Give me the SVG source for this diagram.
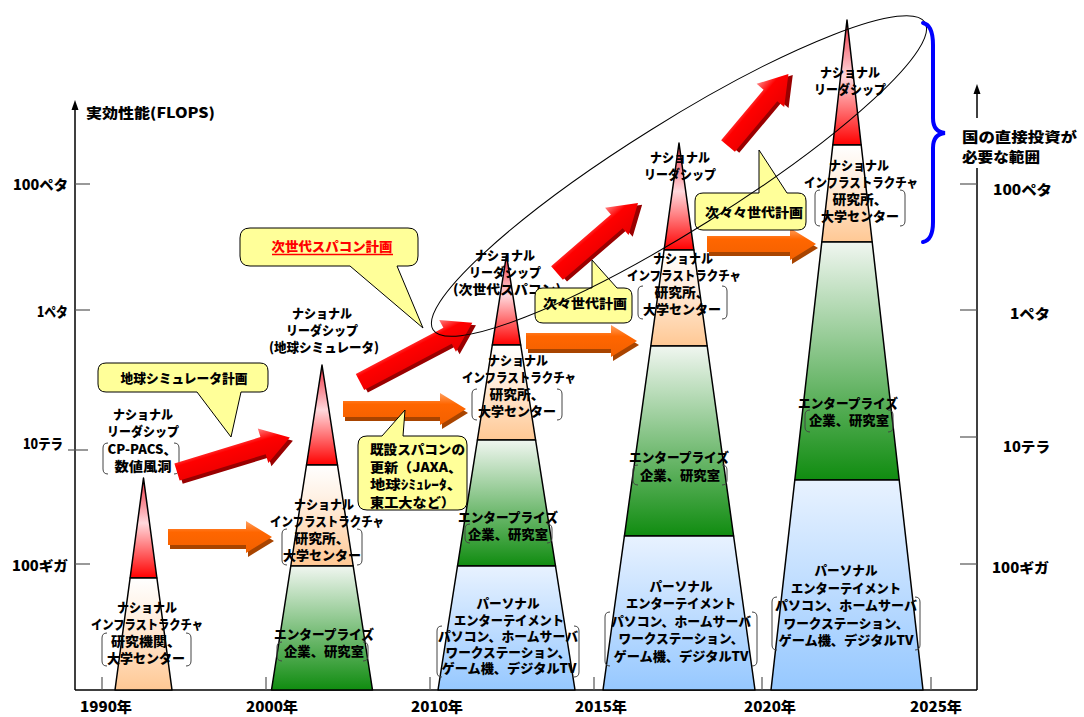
<svg xmlns="http://www.w3.org/2000/svg" width="1084" height="717" viewBox="0 0 1084 717">
<defs>
<style>
.lb{font-family:"Noto Sans CJK JP","Noto Sans",sans-serif;font-weight:900;font-size:13px;text-anchor:middle;fill:#000}
.ax{font-family:"Noto Sans CJK JP","Noto Sans",sans-serif;font-weight:900;font-size:14px;fill:#000}
.br{fill:none;stroke:#444;stroke-width:1}
.co{fill:#FFFF99;stroke:#000;stroke-width:1}
.pl{stroke:#000;stroke-width:1.5;stroke-linejoin:round}
.axl{stroke:#000;stroke-width:1.5;fill:none}
.tk{stroke:#555;stroke-width:1.2}
</style>
<linearGradient id="gR" x1="0" y1="0" x2="0" y2="1"><stop offset="0" stop-color="#F03040"/><stop offset="0.45" stop-color="#FFD8DC"/><stop offset="1" stop-color="#FF0000"/></linearGradient>
<linearGradient id="gO" x1="0" y1="0" x2="0" y2="1"><stop offset="0" stop-color="#FFFFFF"/><stop offset="0.3" stop-color="#FFF2E6"/><stop offset="1" stop-color="#FFC894"/></linearGradient>
<linearGradient id="gG" x1="0" y1="0" x2="0" y2="1"><stop offset="0" stop-color="#F0F6F0"/><stop offset="1" stop-color="#108C10"/></linearGradient>
<linearGradient id="gB" x1="0" y1="0" x2="0" y2="1"><stop offset="0" stop-color="#E8F2FF"/><stop offset="1" stop-color="#96C8FF"/></linearGradient>
<linearGradient id="gRA" x1="0" y1="0" x2="0" y2="1"><stop offset="0" stop-color="#FF8080"/><stop offset="0.35" stop-color="#FF0000"/><stop offset="1" stop-color="#E80000"/></linearGradient>
<linearGradient id="gOA" x1="0" y1="0" x2="0" y2="1"><stop offset="0" stop-color="#FFA060"/><stop offset="0.35" stop-color="#FF6600"/><stop offset="1" stop-color="#F26000"/></linearGradient>
</defs>
<rect width="1084" height="717" fill="#FFFFFF"/>

<g id="axes">
<line class="axl" x1="75" y1="106" x2="75" y2="690"/>
<polygon points="75,100 71.5,110 78.5,110" fill="#000"/>
<line class="axl" x1="75" y1="690" x2="977" y2="690"/>
<line class="axl" x1="977" y1="90" x2="977" y2="118"/>
<line class="axl" x1="977" y1="168" x2="977" y2="690"/>
<polygon points="977,84 973.5,94 980.5,94" fill="#000"/>
<line class="tk" x1="75" y1="184" x2="90" y2="184"/>
<line class="tk" x1="75" y1="310" x2="90" y2="310"/>
<line class="tk" x1="68" y1="450" x2="88" y2="450"/>
<line class="tk" x1="75" y1="564" x2="90" y2="564"/>
<line class="tk" x1="960" y1="184" x2="977" y2="184"/>
<line class="tk" x1="960" y1="310" x2="977" y2="310"/>
<line class="tk" x1="960" y1="437" x2="977" y2="437"/>
<line class="tk" x1="960" y1="564" x2="977" y2="564"/>
<line class="tk" x1="102" y1="677" x2="102" y2="690"/>
<line class="tk" x1="266" y1="677" x2="266" y2="690"/>
<line class="tk" x1="430" y1="677" x2="430" y2="690"/>
<line class="tk" x1="594" y1="677" x2="594" y2="690"/>
<line class="tk" x1="762" y1="677" x2="762" y2="690"/>
<line class="tk" x1="931" y1="677" x2="931" y2="690"/>
<text class="ax" x="86" y="118" font-size="15" textLength="129" lengthAdjust="spacingAndGlyphs">実効性能(FLOPS)</text>
<text class="ax" x="68" y="190" text-anchor="end" textLength="55" lengthAdjust="spacingAndGlyphs">100ペタ</text>
<text class="ax" x="68" y="317" text-anchor="end" textLength="31" lengthAdjust="spacingAndGlyphs">1ペタ</text>
<text class="ax" x="63" y="449" text-anchor="end" textLength="40" lengthAdjust="spacingAndGlyphs">10テラ</text>
<text class="ax" x="68" y="571" text-anchor="end" textLength="56" lengthAdjust="spacingAndGlyphs">100ギガ</text>
<text class="ax" x="1052" y="195" text-anchor="end" textLength="59" lengthAdjust="spacingAndGlyphs">100ペタ</text>
<text class="ax" x="1050" y="319" text-anchor="end" textLength="40" lengthAdjust="spacingAndGlyphs">1ペタ</text>
<text class="ax" x="1050" y="452" text-anchor="end" textLength="47" lengthAdjust="spacingAndGlyphs">10テラ</text>
<text class="ax" x="1049" y="573" text-anchor="end" textLength="57" lengthAdjust="spacingAndGlyphs">100ギガ</text>
<text class="ax" x="106" y="712" text-anchor="middle" textLength="52" lengthAdjust="spacingAndGlyphs">1990年</text>
<text class="ax" x="272" y="712" text-anchor="middle" textLength="52" lengthAdjust="spacingAndGlyphs">2000年</text>
<text class="ax" x="437" y="712" text-anchor="middle" textLength="52" lengthAdjust="spacingAndGlyphs">2010年</text>
<text class="ax" x="601" y="712" text-anchor="middle" textLength="52" lengthAdjust="spacingAndGlyphs">2015年</text>
<text class="ax" x="770" y="712" text-anchor="middle" textLength="52" lengthAdjust="spacingAndGlyphs">2020年</text>
<text class="ax" x="936" y="712" text-anchor="middle" textLength="52" lengthAdjust="spacingAndGlyphs">2025年</text>
</g>

<g id="pyramid-1990">
<polygon class="pl" fill="url(#gR)" points="143.5,478 156.9,578 130.1,578"/>
<polygon class="pl" fill="url(#gO)" points="130.1,578 156.9,578 172,690 115,690"/>
<text class="lb" x="143" y="419" textLength="60" lengthAdjust="spacingAndGlyphs">ナショナル</text>
<text class="lb" x="143" y="436" textLength="72" lengthAdjust="spacingAndGlyphs">リーダシップ</text>
<path class="br" d="M108,443 Q103,443 103,448 V469 Q103,474 108,474 M174,443 Q179,443 179,448 V469 Q179,474 174,474"/>
<text class="lb" x="142" y="454" textLength="69" lengthAdjust="spacingAndGlyphs">CP-PACS、</text>
<text class="lb" x="143" y="471" textLength="57" lengthAdjust="spacingAndGlyphs">数値風洞</text>
<text class="lb" x="147" y="612" textLength="60" lengthAdjust="spacingAndGlyphs">ナショナル</text>
<text class="lb" x="147" y="629" textLength="112" lengthAdjust="spacingAndGlyphs">インフラストラクチャ</text>
<path class="br" d="M107,633 Q102,633 102,638 V661 Q102,666 107,666 M186,633 Q191,633 191,638 V661 Q191,666 186,666"/>
<text class="lb" x="146" y="646" textLength="70" lengthAdjust="spacingAndGlyphs">研究機関、</text>
<text class="lb" x="146" y="663" textLength="78" lengthAdjust="spacingAndGlyphs">大学センター</text>
</g>

<g id="pyramid-2000">
<polygon class="pl" fill="url(#gR)" points="322,365 337.5,465 306.5,465"/>
<polygon class="pl" fill="url(#gO)" points="306.5,465 337.5,465 353.2,566 290.8,566"/>
<polygon class="pl" fill="url(#gG)" points="290.8,566 353.2,566 372.5,690 271.5,690"/>
<text class="lb" x="322" y="318" textLength="60" lengthAdjust="spacingAndGlyphs">ナショナル</text>
<text class="lb" x="322" y="335" textLength="72" lengthAdjust="spacingAndGlyphs">リーダシップ</text>
<text class="lb" x="324" y="352" textLength="110" lengthAdjust="spacingAndGlyphs">(地球シミュレータ)</text>
<text class="lb" x="324" y="509" textLength="60" lengthAdjust="spacingAndGlyphs">ナショナル</text>
<text class="lb" x="327" y="526" textLength="114" lengthAdjust="spacingAndGlyphs">インフラストラクチャ</text>
<path class="br" d="M287,529 Q282,529 282,534 V560 Q282,565 287,565 M357,529 Q362,529 362,534 V560 Q362,565 357,565"/>
<text class="lb" x="322" y="543" textLength="55" lengthAdjust="spacingAndGlyphs">研究所、</text>
<text class="lb" x="322" y="560" textLength="78" lengthAdjust="spacingAndGlyphs">大学センター</text>
<text class="lb" x="324" y="639" textLength="100" lengthAdjust="spacingAndGlyphs">エンタープライズ</text>
<path class="br" d="M282,642 Q277,642 277,647 V656 Q277,661 282,661 M363,642 Q368,642 368,647 V656 Q368,661 363,661"/>
<text class="lb" x="324" y="656" textLength="80" lengthAdjust="spacingAndGlyphs">企業、研究室</text>
</g>

<g id="pyramid-2010">
<polygon class="pl" fill="url(#gR)" points="506.5,255 520.7,345 492.3,345"/>
<polygon class="pl" fill="url(#gO)" points="492.3,345 520.7,345 535.6,440 477.4,440"/>
<polygon class="pl" fill="url(#gG)" points="477.4,440 535.6,440 555.5,566 457.5,566"/>
<polygon class="pl" fill="url(#gB)" points="457.5,566 555.5,566 575,690 438,690"/>
<text class="lb" x="505" y="260" textLength="60" lengthAdjust="spacingAndGlyphs">ナショナル</text>
<text class="lb" x="505" y="277" textLength="72" lengthAdjust="spacingAndGlyphs">リーダシップ</text>
<text class="lb" x="507" y="294" textLength="108" lengthAdjust="spacingAndGlyphs">(次世代スパコン)</text>
<text class="lb" x="518" y="365" textLength="60" lengthAdjust="spacingAndGlyphs">ナショナル</text>
<text class="lb" x="519" y="382" textLength="114" lengthAdjust="spacingAndGlyphs">インフラストラクチャ</text>
<path class="br" d="M477,389 Q472,389 472,394 V415 Q472,420 477,420 M557,389 Q562,389 562,394 V415 Q562,420 557,420"/>
<text class="lb" x="517" y="399" textLength="55" lengthAdjust="spacingAndGlyphs">研究所、</text>
<text class="lb" x="517" y="416" textLength="78" lengthAdjust="spacingAndGlyphs">大学センター</text>
<text class="lb" x="508" y="522" textLength="100" lengthAdjust="spacingAndGlyphs">エンタープライズ</text>
<path class="br" d="M470,524 Q465,524 465,529 V538 Q465,543 470,543 M547,524 Q552,524 552,529 V538 Q552,543 547,543"/>
<text class="lb" x="508" y="539" textLength="80" lengthAdjust="spacingAndGlyphs">企業、研究室</text>
<text class="lb" x="508" y="608" textLength="63" lengthAdjust="spacingAndGlyphs">パーソナル</text>
<text class="lb" x="509" y="625" textLength="110" lengthAdjust="spacingAndGlyphs">エンターテイメント</text>
<path class="br" d="M442,626 Q437,626 437,631 V672 Q437,677 442,677 M574,626 Q579,626 579,631 V672 Q579,677 574,677"/>
<text class="lb" x="508" y="641" textLength="140" lengthAdjust="spacingAndGlyphs">パソコン、ホームサーバ</text>
<text class="lb" x="508" y="657" textLength="125" lengthAdjust="spacingAndGlyphs">ワークステーション、</text>
<text class="lb" x="509" y="673" textLength="135" lengthAdjust="spacingAndGlyphs">ゲーム機、デジタルTV</text>
</g>

<g id="pyramid-2015">
<polygon class="pl" fill="url(#gR)" points="679,143 693.9,250 664.1,250"/>
<polygon class="pl" fill="url(#gO)" points="664.1,250 693.9,250 707.2,346 650.8,346"/>
<polygon class="pl" fill="url(#gG)" points="650.8,346 707.2,346 733.6,536 624.4,536"/>
<polygon class="pl" fill="url(#gB)" points="624.4,536 733.6,536 755,690 603,690"/>
<text class="lb" x="680" y="162" textLength="60" lengthAdjust="spacingAndGlyphs">ナショナル</text>
<text class="lb" x="680" y="179" textLength="72" lengthAdjust="spacingAndGlyphs">リーダシップ</text>
<text class="lb" x="683" y="263" textLength="60" lengthAdjust="spacingAndGlyphs">ナショナル</text>
<text class="lb" x="684" y="280" textLength="114" lengthAdjust="spacingAndGlyphs">インフラストラクチャ</text>
<path class="br" d="M643,286 Q638,286 638,291 V314 Q638,319 643,319 M722,286 Q727,286 727,291 V314 Q727,319 722,319"/>
<text class="lb" x="682" y="297" textLength="55" lengthAdjust="spacingAndGlyphs">研究所、</text>
<text class="lb" x="682" y="314" textLength="78" lengthAdjust="spacingAndGlyphs">大学センター</text>
<text class="lb" x="679" y="462" textLength="100" lengthAdjust="spacingAndGlyphs">エンタープライズ</text>
<path class="br" d="M638,465 Q633,465 633,470 V480 Q633,485 638,485 M722,465 Q727,465 727,470 V480 Q727,485 722,485"/>
<text class="lb" x="680" y="480" textLength="80" lengthAdjust="spacingAndGlyphs">企業、研究室</text>
<text class="lb" x="681" y="591" textLength="63" lengthAdjust="spacingAndGlyphs">パーソナル</text>
<text class="lb" x="681" y="608" textLength="110" lengthAdjust="spacingAndGlyphs">エンターテイメント</text>
<path class="br" d="M610,612 Q605,612 605,617 V661 Q605,666 610,666 M752,612 Q757,612 757,617 V661 Q757,666 752,666"/>
<text class="lb" x="681" y="626" textLength="140" lengthAdjust="spacingAndGlyphs">パソコン、ホームサーバ</text>
<text class="lb" x="681" y="643" textLength="125" lengthAdjust="spacingAndGlyphs">ワークステーション、</text>
<text class="lb" x="681" y="661" textLength="135" lengthAdjust="spacingAndGlyphs">ゲーム機、デジタルTV</text>
</g>

<g id="pyramid-2020">
<polygon class="pl" fill="url(#gR)" points="847,20 861.2,145 832.8,145"/>
<polygon class="pl" fill="url(#gO)" points="832.8,145 861.2,145 872.2,242 821.8,242"/>
<polygon class="pl" fill="url(#gG)" points="821.8,242 872.2,242 899.2,480 794.8,480"/>
<polygon class="pl" fill="url(#gB)" points="794.8,480 899.2,480 923,690 771,690"/>
<text class="lb" x="850" y="77" textLength="60" lengthAdjust="spacingAndGlyphs">ナショナル</text>
<text class="lb" x="850" y="94" textLength="72" lengthAdjust="spacingAndGlyphs">リーダシップ</text>
<text class="lb" x="859" y="170" textLength="60" lengthAdjust="spacingAndGlyphs">ナショナル</text>
<text class="lb" x="861" y="187" textLength="114" lengthAdjust="spacingAndGlyphs">インフラストラクチャ</text>
<path class="br" d="M820,190 Q815,190 815,195 V221 Q815,226 820,226 M900,190 Q905,190 905,195 V221 Q905,226 900,226"/>
<text class="lb" x="860" y="204" textLength="55" lengthAdjust="spacingAndGlyphs">研究所、</text>
<text class="lb" x="860" y="221" textLength="78" lengthAdjust="spacingAndGlyphs">大学センター</text>
<text class="lb" x="848" y="408" textLength="100" lengthAdjust="spacingAndGlyphs">エンタープライズ</text>
<path class="br" d="M810,410 Q805,410 805,415 V427 Q805,432 810,432 M888,410 Q893,410 893,415 V427 Q893,432 888,432"/>
<text class="lb" x="849" y="425" textLength="80" lengthAdjust="spacingAndGlyphs">企業、研究室</text>
<text class="lb" x="846" y="575" textLength="63" lengthAdjust="spacingAndGlyphs">パーソナル</text>
<text class="lb" x="846" y="593" textLength="110" lengthAdjust="spacingAndGlyphs">エンターテイメント</text>
<path class="br" d="M777,597 Q772,597 772,602 V645 Q772,650 777,650 M915,597 Q920,597 920,602 V645 Q920,650 915,650"/>
<text class="lb" x="846" y="610" textLength="142" lengthAdjust="spacingAndGlyphs">パソコン、ホームサーバ</text>
<text class="lb" x="846" y="628" textLength="125" lengthAdjust="spacingAndGlyphs">ワークステーション、</text>
<text class="lb" x="846" y="645" textLength="135" lengthAdjust="spacingAndGlyphs">ゲーム機、デジタルTV</text>
</g>

<g id="connectors">
<g transform="translate(177,472) rotate(-17)">
<path transform="translate(2,4)" fill="#990000" d="M0,-9 H90 V-18 L118,0 L90,18 V9 H0 Z"/>
<path fill="url(#gRA)" d="M0,-9 H90 V-18 L118,0 L90,18 V9 H0 Z"/>
</g>
<g transform="translate(360,382) rotate(-27.8)">
<path transform="translate(2,4)" fill="#990000" d="M0,-9 H99 V-18 L127,0 L99,18 V9 H0 Z"/>
<path fill="url(#gRA)" d="M0,-9 H99 V-18 L127,0 L99,18 V9 H0 Z"/>
</g>
<g transform="translate(557,273) rotate(-40.8)">
<path transform="translate(2,4)" fill="#990000" d="M0,-9 H79 V-18 L107,0 L79,18 V9 H0 Z"/>
<path fill="url(#gRA)" d="M0,-9 H79 V-18 L107,0 L79,18 V9 H0 Z"/>
</g>
<g transform="translate(728,146) rotate(-50)">
<path transform="translate(2,4)" fill="#990000" d="M0,-9 H66 V-18 L94,0 L66,18 V9 H0 Z"/>
<path fill="url(#gRA)" d="M0,-9 H66 V-18 L94,0 L66,18 V9 H0 Z"/>
</g>
<g transform="translate(168,537)">
<path transform="translate(2,4)" fill="#A84400" d="M0,-8 H78 V-16 L104,0 L78,16 V8 H0 Z"/>
<path fill="url(#gOA)" d="M0,-8 H78 V-16 L104,0 L78,16 V8 H0 Z"/>
</g>
<g transform="translate(343,409)">
<path transform="translate(2,4)" fill="#A84400" d="M0,-8 H97 V-16 L123,0 L97,16 V8 H0 Z"/>
<path fill="url(#gOA)" d="M0,-8 H97 V-16 L123,0 L97,16 V8 H0 Z"/>
</g>
<g transform="translate(526,341)">
<path transform="translate(2,4)" fill="#A84400" d="M0,-8 H85 V-16 L111,0 L85,16 V8 H0 Z"/>
<path fill="url(#gOA)" d="M0,-8 H85 V-16 L111,0 L85,16 V8 H0 Z"/>
</g>
<g transform="translate(707,244)">
<path transform="translate(2,4)" fill="#A84400" d="M0,-8 H83 V-16 L109,0 L83,16 V8 H0 Z"/>
<path fill="url(#gOA)" d="M0,-8 H83 V-16 L109,0 L83,16 V8 H0 Z"/>
</g>
</g>

<g id="callout-earth-simulator">
<path class="co" d="M106,363 H260 Q268,363 268,371 V384 Q268,392 260,392 H241 L231,437 L197,392 H106 Q98,392 98,384 V371 Q98,363 106,363 Z"/>
<text class="lb" x="184" y="383" textLength="127" lengthAdjust="spacingAndGlyphs">地球シミュレータ計画</text>
</g>
<g id="callout-next-gen">
<path class="co" d="M250,228 H408 Q418,228 418,238 V256 Q418,266 408,266 H397 L423,328 L350,266 H250 Q240,266 240,256 V238 Q240,228 250,228 Z"/>
<text class="lb" x="332" y="251" style="fill:#FF0000" textLength="121" lengthAdjust="spacingAndGlyphs">次世代スパコン計画</text>
<line x1="272" y1="254.5" x2="393" y2="254.5" stroke="#FF0000" stroke-width="1.3"/>
</g>
<g id="callout-renewal">
<path class="co" d="M367,436 H382 L405,410 L403,436 H458 Q467,436 467,445 V501 Q467,510 458,510 H367 Q358,510 358,501 V445 Q358,436 367,436 Z"/>
<text class="lb" x="370" y="454" style="text-anchor:start" textLength="95" lengthAdjust="spacingAndGlyphs">既設スパコンの</text>
<text class="lb" x="370" y="472" style="text-anchor:start" textLength="92" lengthAdjust="spacingAndGlyphs">更新（JAXA、</text>
<text class="lb" x="370" y="489" style="text-anchor:start" textLength="92" lengthAdjust="spacingAndGlyphs">地球ｼﾐｭﾚｰﾀ、</text>
<text class="lb" x="370" y="507" style="text-anchor:start" textLength="85" lengthAdjust="spacingAndGlyphs">東工大など）</text>
</g>
<g id="callout-next-next-gen">
<path class="co" d="M543,288 H592 V260 L617,288 H624 Q632,288 632,296 V315 Q632,323 624,323 H543 Q535,323 535,315 V296 Q535,288 543,288 Z"/>
<text class="lb" x="585" y="308" textLength="84" lengthAdjust="spacingAndGlyphs">次々世代計画</text>
</g>
<g id="callout-next-next-next-gen">
<path class="co" d="M703,193 H759 V150 L787,193 H798 Q806,193 806,201 V222 Q806,230 798,230 H703 Q695,230 695,222 V201 Q695,193 703,193 Z"/>
<text class="lb" x="754" y="217" textLength="98" lengthAdjust="spacingAndGlyphs">次々々世代計画</text>
</g>

<g id="national-range">
<ellipse cx="679" cy="176" rx="290" ry="54" transform="rotate(-32 679 176)" fill="none" stroke="#000" stroke-width="1"/>
<path d="M923,23 Q933,25 933,45 V118 Q933,132 945,133 Q933,134 933,148 V222 Q933,240 923,242" fill="none" stroke="#0000FF" stroke-width="4" stroke-linecap="round"/>
<text class="ax" x="962" y="142" font-size="16" textLength="115" lengthAdjust="spacingAndGlyphs">国の直接投資が</text>
<text class="ax" x="962" y="162" font-size="16" textLength="78" lengthAdjust="spacingAndGlyphs">必要な範囲</text>
</g>
</svg>
